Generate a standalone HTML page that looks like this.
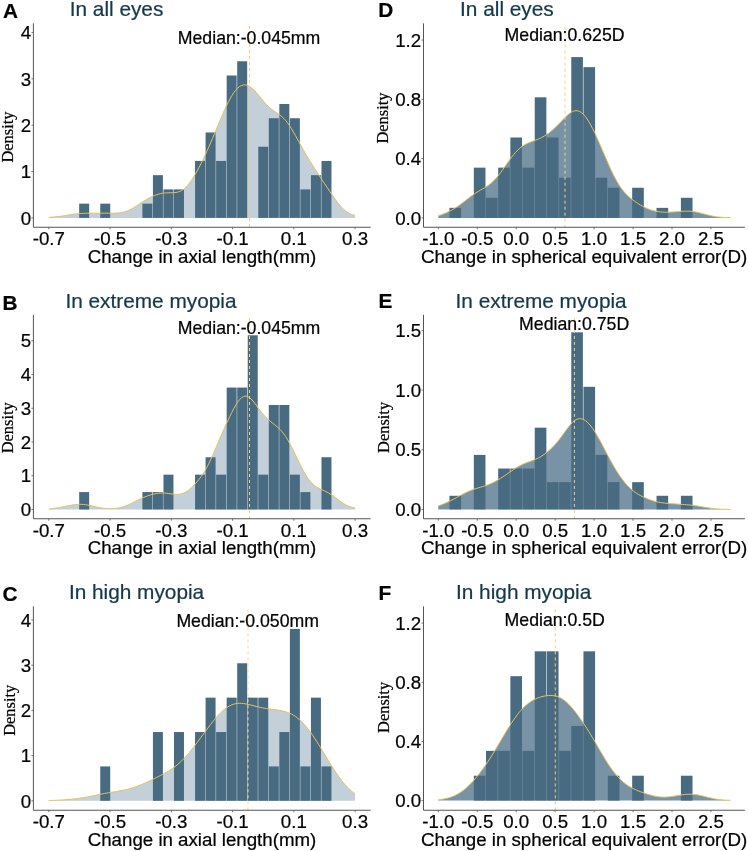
<!DOCTYPE html>
<html><head><meta charset="utf-8"><style>
html,body{margin:0;padding:0;background:#fff}
svg{display:block;will-change:transform}
text{font-family:"Liberation Sans", sans-serif;stroke:currentColor;stroke-width:0.22px;paint-order:stroke}
text.serif{font-family:"Liberation Serif", serif}
</style></head><body>
<svg width="748" height="851" viewBox="0 0 748 851">
<rect width="748" height="851" fill="#fff"/>
<polygon points="48.8,217.9 48.8,217.31 50.73,217.22 52.65,217.09 54.58,216.94 56.51,216.75 58.43,216.53 60.36,216.28 62.28,216.01 64.21,215.71 66.14,215.41 68.06,215.09 69.99,214.79 71.92,214.49 73.84,214.21 75.77,213.97 77.7,213.75 79.62,213.58 81.55,213.44 83.48,213.34 85.4,213.28 87.33,213.24 89.25,213.22 91.18,213.22 93.11,213.21 95.03,213.21 96.96,213.21 98.89,213.2 100.81,213.19 102.74,213.18 104.67,213.17 106.59,213.17 108.52,213.18 110.45,213.19 112.37,213.19 114.3,213.17 116.22,213.11 118.15,212.99 120.08,212.78 122,212.46 123.93,212.01 125.86,211.42 127.78,210.69 129.71,209.82 131.64,208.81 133.56,207.7 135.49,206.51 137.42,205.26 139.34,203.99 141.27,202.72 143.19,201.48 145.12,200.28 147.05,199.15 148.97,198.1 150.9,197.12 152.83,196.23 154.75,195.43 156.68,194.73 158.61,194.14 160.53,193.65 162.46,193.28 164.38,193.02 166.31,192.87 168.24,192.79 170.16,192.77 172.09,192.74 174.02,192.66 175.94,192.45 177.87,192.06 179.8,191.41 181.72,190.46 183.65,189.17 185.58,187.52 187.5,185.51 189.43,183.15 191.35,180.48 193.28,177.53 195.21,174.33 197.13,170.93 199.06,167.35 200.99,163.61 202.91,159.73 204.84,155.71 206.77,151.56 208.69,147.28 210.62,142.89 212.55,138.39 214.47,133.81 216.4,129.19 218.32,124.55 220.25,119.93 222.18,115.4 224.1,110.99 226.03,106.77 227.96,102.78 229.88,99.08 231.81,95.72 233.74,92.75 235.66,90.22 237.59,88.15 239.52,86.57 241.44,85.5 243.37,84.94 245.29,84.88 247.22,85.3 249.15,86.17 251.07,87.44 253,89.06 254.93,90.97 256.85,93.11 258.78,95.4 260.71,97.76 262.63,100.1 264.56,102.37 266.48,104.49 268.41,106.43 270.34,108.17 272.26,109.72 274.19,111.11 276.12,112.42 278.04,113.73 279.97,115.13 281.9,116.69 283.82,118.51 285.75,120.63 287.68,123.06 289.6,125.8 291.53,128.82 293.45,132.06 295.38,135.46 297.31,138.94 299.23,142.45 301.16,145.94 303.09,149.38 305.01,152.75 306.94,156.05 308.87,159.27 310.79,162.42 312.72,165.51 314.65,168.55 316.57,171.54 318.5,174.49 320.42,177.41 322.35,180.31 324.28,183.19 326.2,186.06 328.13,188.92 330.06,191.77 331.98,194.6 333.91,197.36 335.84,200.05 337.76,202.61 339.69,205 341.62,207.2 343.54,209.16 345.47,210.86 347.39,212.29 349.32,213.45 351.25,214.34 353.17,214.98 355.1,215.39 355.1,217.9" fill="#c3d0d9"/>
<g fill="#486b81"><rect x="79.18" y="203.66" width="9.98" height="14.24"/><rect x="100.25" y="203.66" width="9.98" height="14.24"/><rect x="142.39" y="203.66" width="9.98" height="14.24"/><rect x="152.92" y="175.18" width="9.98" height="42.72"/><rect x="163.46" y="189.42" width="9.98" height="28.48"/><rect x="173.99" y="189.42" width="9.98" height="28.48"/><rect x="195.06" y="160.94" width="9.98" height="56.96"/><rect x="205.59" y="132.46" width="9.98" height="85.44"/><rect x="216.13" y="160.94" width="9.98" height="56.96"/><rect x="226.67" y="75.5" width="9.98" height="142.4"/><rect x="237.2" y="61.26" width="9.98" height="156.64"/><rect x="258.27" y="146.7" width="9.98" height="71.2"/><rect x="268.8" y="118.22" width="9.98" height="99.68"/><rect x="279.34" y="103.98" width="9.98" height="113.92"/><rect x="289.88" y="118.22" width="9.98" height="99.68"/><rect x="300.41" y="189.42" width="9.98" height="28.48"/><rect x="310.94" y="175.18" width="9.98" height="42.72"/><rect x="321.48" y="160.94" width="9.98" height="56.96"/></g>
<polyline points="48.8,217.31 50.73,217.22 52.65,217.09 54.58,216.94 56.51,216.75 58.43,216.53 60.36,216.28 62.28,216.01 64.21,215.71 66.14,215.41 68.06,215.09 69.99,214.79 71.92,214.49 73.84,214.21 75.77,213.97 77.7,213.75 79.62,213.58 81.55,213.44 83.48,213.34 85.4,213.28 87.33,213.24 89.25,213.22 91.18,213.22 93.11,213.21 95.03,213.21 96.96,213.21 98.89,213.2 100.81,213.19 102.74,213.18 104.67,213.17 106.59,213.17 108.52,213.18 110.45,213.19 112.37,213.19 114.3,213.17 116.22,213.11 118.15,212.99 120.08,212.78 122,212.46 123.93,212.01 125.86,211.42 127.78,210.69 129.71,209.82 131.64,208.81 133.56,207.7 135.49,206.51 137.42,205.26 139.34,203.99 141.27,202.72 143.19,201.48 145.12,200.28 147.05,199.15 148.97,198.1 150.9,197.12 152.83,196.23 154.75,195.43 156.68,194.73 158.61,194.14 160.53,193.65 162.46,193.28 164.38,193.02 166.31,192.87 168.24,192.79 170.16,192.77 172.09,192.74 174.02,192.66 175.94,192.45 177.87,192.06 179.8,191.41 181.72,190.46 183.65,189.17 185.58,187.52 187.5,185.51 189.43,183.15 191.35,180.48 193.28,177.53 195.21,174.33 197.13,170.93 199.06,167.35 200.99,163.61 202.91,159.73 204.84,155.71 206.77,151.56 208.69,147.28 210.62,142.89 212.55,138.39 214.47,133.81 216.4,129.19 218.32,124.55 220.25,119.93 222.18,115.4 224.1,110.99 226.03,106.77 227.96,102.78 229.88,99.08 231.81,95.72 233.74,92.75 235.66,90.22 237.59,88.15 239.52,86.57 241.44,85.5 243.37,84.94 245.29,84.88 247.22,85.3 249.15,86.17 251.07,87.44 253,89.06 254.93,90.97 256.85,93.11 258.78,95.4 260.71,97.76 262.63,100.1 264.56,102.37 266.48,104.49 268.41,106.43 270.34,108.17 272.26,109.72 274.19,111.11 276.12,112.42 278.04,113.73 279.97,115.13 281.9,116.69 283.82,118.51 285.75,120.63 287.68,123.06 289.6,125.8 291.53,128.82 293.45,132.06 295.38,135.46 297.31,138.94 299.23,142.45 301.16,145.94 303.09,149.38 305.01,152.75 306.94,156.05 308.87,159.27 310.79,162.42 312.72,165.51 314.65,168.55 316.57,171.54 318.5,174.49 320.42,177.41 322.35,180.31 324.28,183.19 326.2,186.06 328.13,188.92 330.06,191.77 331.98,194.6 333.91,197.36 335.84,200.05 337.76,202.61 339.69,205 341.62,207.2 343.54,209.16 345.47,210.86 347.39,212.29 349.32,213.45 351.25,214.34 353.17,214.98 355.1,215.39" fill="none" stroke="#e6c35c" stroke-width="1"/>
<line x1="249.5" y1="23.35" x2="249.5" y2="227.25" stroke="#f8c874" stroke-width="1" stroke-dasharray="3 3" stroke-dashoffset="3.35"/>
<path d="M33.4,23.35V227.25H370.6" fill="none" stroke="#555" stroke-width="1"/>
<path d="M31.4,217.9h2M31.4,171.55h2M31.4,125.2h2M31.4,78.85h2M31.4,32.5h2M48.8,227.25v2M110.06,227.25v2M171.32,227.25v2M232.58,227.25v2M293.84,227.25v2M355.1,227.25v2" stroke="#555" stroke-width="0.8"/>
<g font-size="18.7"><text x="31.1" y="224.6" text-anchor="end">0</text><text x="31.1" y="178.25" text-anchor="end">1</text><text x="31.1" y="131.9" text-anchor="end">2</text><text x="31.1" y="85.55" text-anchor="end">3</text><text x="31.1" y="39.2" text-anchor="end">4</text><text x="48.8" y="245.05" text-anchor="middle">-0.7</text><text x="110.06" y="245.05" text-anchor="middle">-0.5</text><text x="171.32" y="245.05" text-anchor="middle">-0.3</text><text x="232.58" y="245.05" text-anchor="middle">-0.1</text><text x="293.84" y="245.05" text-anchor="middle">0.1</text><text x="355.1" y="245.05" text-anchor="middle">0.3</text><text x="202" y="262.85" text-anchor="middle">Change in axial length(mm)</text></g>
<text x="177.8" y="44.05" font-size="17.7">Median:-0.045mm</text>
<text x="69.7" y="16" font-size="20.8" fill="#133847" style="color:#133847">In all eyes</text>
<text x="3.1" y="18" font-size="20.8" font-weight="bold">A</text>
<text transform="translate(13,137) rotate(-90)" text-anchor="middle" class="serif" font-size="16.4">Density</text>
<polygon points="48.8,509.5 48.8,508.94 50.73,508.75 52.65,508.54 54.58,508.28 56.51,507.99 58.43,507.67 60.36,507.32 62.28,506.95 64.21,506.56 66.14,506.17 68.06,505.78 69.99,505.41 71.92,505.06 73.84,504.77 75.77,504.53 77.7,504.37 79.62,504.3 81.55,504.33 83.48,504.46 85.4,504.69 87.33,505.01 89.25,505.39 91.18,505.82 93.11,506.27 95.03,506.71 96.96,507.14 98.89,507.52 100.81,507.85 102.74,508.13 104.67,508.34 106.59,508.5 108.52,508.59 110.45,508.63 112.37,508.6 114.3,508.49 116.22,508.31 118.15,508.03 120.08,507.65 122,507.17 123.93,506.57 125.86,505.86 127.78,505.05 129.71,504.17 131.64,503.22 133.56,502.24 135.49,501.25 137.42,500.27 139.34,499.33 141.27,498.43 143.19,497.59 145.12,496.8 147.05,496.07 148.97,495.41 150.9,494.81 152.83,494.28 154.75,493.83 156.68,493.47 158.61,493.22 160.53,493.06 162.46,493.02 164.38,493.08 166.31,493.23 168.24,493.46 170.16,493.73 172.09,494 174.02,494.23 175.94,494.36 177.87,494.35 179.8,494.16 181.72,493.73 183.65,493.04 185.58,492.09 187.5,490.88 189.43,489.42 191.35,487.76 193.28,485.9 195.21,483.87 197.13,481.68 199.06,479.31 200.99,476.74 202.91,473.93 204.84,470.84 206.77,467.46 208.69,463.77 210.62,459.79 212.55,455.56 214.47,451.16 216.4,446.64 218.32,442.1 220.25,437.58 222.18,433.13 224.1,428.77 226.03,424.51 227.96,420.36 229.88,416.31 231.81,412.42 233.74,408.72 235.66,405.3 237.59,402.27 239.52,399.74 241.44,397.82 243.37,396.59 245.29,396.11 247.22,396.38 249.15,397.35 251.07,398.93 253,401 254.93,403.4 256.85,406 258.78,408.66 260.71,411.25 262.63,413.69 264.56,415.92 266.48,417.94 268.41,419.74 270.34,421.37 272.26,422.89 274.19,424.37 276.12,425.9 278.04,427.56 279.97,429.42 281.9,431.54 283.82,433.96 285.75,436.71 287.68,439.78 289.6,443.15 291.53,446.79 293.45,450.63 295.38,454.6 297.31,458.62 299.23,462.62 301.16,466.5 303.09,470.2 305.01,473.64 306.94,476.77 308.87,479.53 310.79,481.93 312.72,483.94 314.65,485.62 316.57,486.99 318.5,488.12 320.42,489.09 322.35,489.97 324.28,490.83 326.2,491.75 328.13,492.75 330.06,493.88 331.98,495.12 333.91,496.48 335.84,497.91 337.76,499.37 339.69,500.81 341.62,502.2 343.54,503.48 345.47,504.63 347.39,505.62 349.32,506.45 351.25,507.12 353.17,507.63 355.1,508.01 355.1,509.5" fill="#c3d0d9"/>
<g fill="#486b81"><rect x="79.18" y="492.08" width="9.98" height="17.42"/><rect x="142.39" y="492.08" width="9.98" height="17.42"/><rect x="152.92" y="492.08" width="9.98" height="17.42"/><rect x="163.46" y="474.66" width="9.98" height="34.84"/><rect x="195.06" y="474.66" width="9.98" height="34.84"/><rect x="205.59" y="457.24" width="9.98" height="52.26"/><rect x="216.13" y="474.66" width="9.98" height="34.84"/><rect x="226.67" y="387.56" width="9.98" height="121.94"/><rect x="237.2" y="387.56" width="9.98" height="121.94"/><rect x="247.74" y="335.3" width="9.98" height="174.2"/><rect x="258.27" y="474.66" width="9.98" height="34.84"/><rect x="268.8" y="404.98" width="9.98" height="104.52"/><rect x="279.34" y="404.98" width="9.98" height="104.52"/><rect x="289.88" y="474.66" width="9.98" height="34.84"/><rect x="300.41" y="492.08" width="9.98" height="17.42"/><rect x="321.48" y="457.24" width="9.98" height="52.26"/></g>
<polyline points="48.8,508.94 50.73,508.75 52.65,508.54 54.58,508.28 56.51,507.99 58.43,507.67 60.36,507.32 62.28,506.95 64.21,506.56 66.14,506.17 68.06,505.78 69.99,505.41 71.92,505.06 73.84,504.77 75.77,504.53 77.7,504.37 79.62,504.3 81.55,504.33 83.48,504.46 85.4,504.69 87.33,505.01 89.25,505.39 91.18,505.82 93.11,506.27 95.03,506.71 96.96,507.14 98.89,507.52 100.81,507.85 102.74,508.13 104.67,508.34 106.59,508.5 108.52,508.59 110.45,508.63 112.37,508.6 114.3,508.49 116.22,508.31 118.15,508.03 120.08,507.65 122,507.17 123.93,506.57 125.86,505.86 127.78,505.05 129.71,504.17 131.64,503.22 133.56,502.24 135.49,501.25 137.42,500.27 139.34,499.33 141.27,498.43 143.19,497.59 145.12,496.8 147.05,496.07 148.97,495.41 150.9,494.81 152.83,494.28 154.75,493.83 156.68,493.47 158.61,493.22 160.53,493.06 162.46,493.02 164.38,493.08 166.31,493.23 168.24,493.46 170.16,493.73 172.09,494 174.02,494.23 175.94,494.36 177.87,494.35 179.8,494.16 181.72,493.73 183.65,493.04 185.58,492.09 187.5,490.88 189.43,489.42 191.35,487.76 193.28,485.9 195.21,483.87 197.13,481.68 199.06,479.31 200.99,476.74 202.91,473.93 204.84,470.84 206.77,467.46 208.69,463.77 210.62,459.79 212.55,455.56 214.47,451.16 216.4,446.64 218.32,442.1 220.25,437.58 222.18,433.13 224.1,428.77 226.03,424.51 227.96,420.36 229.88,416.31 231.81,412.42 233.74,408.72 235.66,405.3 237.59,402.27 239.52,399.74 241.44,397.82 243.37,396.59 245.29,396.11 247.22,396.38 249.15,397.35 251.07,398.93 253,401 254.93,403.4 256.85,406 258.78,408.66 260.71,411.25 262.63,413.69 264.56,415.92 266.48,417.94 268.41,419.74 270.34,421.37 272.26,422.89 274.19,424.37 276.12,425.9 278.04,427.56 279.97,429.42 281.9,431.54 283.82,433.96 285.75,436.71 287.68,439.78 289.6,443.15 291.53,446.79 293.45,450.63 295.38,454.6 297.31,458.62 299.23,462.62 301.16,466.5 303.09,470.2 305.01,473.64 306.94,476.77 308.87,479.53 310.79,481.93 312.72,483.94 314.65,485.62 316.57,486.99 318.5,488.12 320.42,489.09 322.35,489.97 324.28,490.83 326.2,491.75 328.13,492.75 330.06,493.88 331.98,495.12 333.91,496.48 335.84,497.91 337.76,499.37 339.69,500.81 341.62,502.2 343.54,503.48 345.47,504.63 347.39,505.62 349.32,506.45 351.25,507.12 353.17,507.63 355.1,508.01" fill="none" stroke="#e6c35c" stroke-width="1"/>
<line x1="249.5" y1="314.85" x2="249.5" y2="518.75" stroke="#f6cf78" stroke-width="1" stroke-dasharray="3 3" stroke-dashoffset="2.85"/>
<path d="M33.4,314.85V518.75H370.6" fill="none" stroke="#555" stroke-width="1"/>
<path d="M31.4,509.5h2M31.4,475.75h2M31.4,442h2M31.4,408.25h2M31.4,374.5h2M31.4,340.75h2M48.8,518.75v2M110.06,518.75v2M171.32,518.75v2M232.58,518.75v2M293.84,518.75v2M355.1,518.75v2" stroke="#555" stroke-width="0.8"/>
<g font-size="18.7"><text x="31.1" y="516.2" text-anchor="end">0</text><text x="31.1" y="482.45" text-anchor="end">1</text><text x="31.1" y="448.7" text-anchor="end">2</text><text x="31.1" y="414.95" text-anchor="end">3</text><text x="31.1" y="381.2" text-anchor="end">4</text><text x="31.1" y="347.45" text-anchor="end">5</text><text x="48.8" y="536.55" text-anchor="middle">-0.7</text><text x="110.06" y="536.55" text-anchor="middle">-0.5</text><text x="171.32" y="536.55" text-anchor="middle">-0.3</text><text x="232.58" y="536.55" text-anchor="middle">-0.1</text><text x="293.84" y="536.55" text-anchor="middle">0.1</text><text x="355.1" y="536.55" text-anchor="middle">0.3</text><text x="202" y="554.35" text-anchor="middle">Change in axial length(mm)</text></g>
<text x="177.8" y="334" font-size="17.7">Median:-0.045mm</text>
<text x="65.4" y="308" font-size="20.8" fill="#133847" style="color:#133847">In extreme myopia</text>
<text x="2.5" y="309.5" font-size="20.8" font-weight="bold">B</text>
<text transform="translate(13,427.8) rotate(-90)" text-anchor="middle" class="serif" font-size="16.4">Density</text>
<polygon points="48.8,800.8 48.8,800.51 50.73,800.47 52.65,800.41 54.58,800.34 56.51,800.26 58.43,800.16 60.36,800.06 62.28,799.94 64.21,799.81 66.14,799.67 68.06,799.51 69.99,799.34 71.92,799.15 73.84,798.94 75.77,798.71 77.7,798.47 79.62,798.2 81.55,797.91 83.48,797.6 85.4,797.26 87.33,796.91 89.25,796.54 91.18,796.15 93.11,795.76 95.03,795.36 96.96,794.96 98.89,794.56 100.81,794.17 102.74,793.8 104.67,793.43 106.59,793.09 108.52,792.75 110.45,792.43 112.37,792.12 114.3,791.81 116.22,791.5 118.15,791.17 120.08,790.83 122,790.46 123.93,790.07 125.86,789.63 127.78,789.16 129.71,788.64 131.64,788.08 133.56,787.47 135.49,786.82 137.42,786.12 139.34,785.38 141.27,784.6 143.19,783.78 145.12,782.93 147.05,782.06 148.97,781.16 150.9,780.25 152.83,779.32 154.75,778.37 156.68,777.42 158.61,776.45 160.53,775.46 162.46,774.45 164.38,773.41 166.31,772.33 168.24,771.2 170.16,770 172.09,768.73 174.02,767.36 175.94,765.89 177.87,764.31 179.8,762.61 181.72,760.79 183.65,758.85 185.58,756.79 187.5,754.61 189.43,752.34 191.35,749.98 193.28,747.54 195.21,745.05 197.13,742.5 199.06,739.92 200.99,737.32 202.91,734.72 204.84,732.11 206.77,729.53 208.69,726.97 210.62,724.46 212.55,722.01 214.47,719.64 216.4,717.36 218.32,715.2 220.25,713.18 222.18,711.31 224.1,709.61 226.03,708.11 227.96,706.81 229.88,705.71 231.81,704.83 233.74,704.16 235.66,703.69 237.59,703.41 239.52,703.31 241.44,703.36 243.37,703.54 245.29,703.83 247.22,704.2 249.15,704.64 251.07,705.11 253,705.61 254.93,706.1 256.85,706.59 258.78,707.05 260.71,707.48 262.63,707.87 264.56,708.23 266.48,708.55 268.41,708.83 270.34,709.1 272.26,709.34 274.19,709.59 276.12,709.84 278.04,710.11 279.97,710.43 281.9,710.81 283.82,711.25 285.75,711.79 287.68,712.44 289.6,713.22 291.53,714.13 293.45,715.19 295.38,716.42 297.31,717.82 299.23,719.41 301.16,721.17 303.09,723.12 305.01,725.24 306.94,727.54 308.87,730.01 310.79,732.62 312.72,735.38 314.65,738.26 316.57,741.23 318.5,744.3 320.42,747.42 322.35,750.59 324.28,753.78 326.2,756.98 328.13,760.16 330.06,763.3 331.98,766.39 333.91,769.41 335.84,772.34 337.76,775.16 339.69,777.86 341.62,780.42 343.54,782.84 345.47,785.09 347.39,787.18 349.32,789.1 351.25,790.83 353.17,792.39 355.1,793.78 355.1,800.8" fill="#c3d0d9"/>
<g fill="#486b81"><rect x="100.25" y="766.42" width="9.98" height="34.38"/><rect x="152.92" y="732.04" width="9.98" height="68.76"/><rect x="173.99" y="732.04" width="9.98" height="68.76"/><rect x="195.06" y="732.04" width="9.98" height="68.76"/><rect x="205.59" y="697.66" width="9.98" height="103.14"/><rect x="216.13" y="732.04" width="9.98" height="68.76"/><rect x="226.67" y="697.66" width="9.98" height="103.14"/><rect x="237.2" y="663.28" width="9.98" height="137.52"/><rect x="247.74" y="697.66" width="9.98" height="103.14"/><rect x="258.27" y="697.66" width="9.98" height="103.14"/><rect x="268.8" y="766.42" width="9.98" height="34.38"/><rect x="279.34" y="732.04" width="9.98" height="68.76"/><rect x="289.88" y="628.9" width="9.98" height="171.9"/><rect x="300.41" y="766.42" width="9.98" height="34.38"/><rect x="310.94" y="697.66" width="9.98" height="103.14"/><rect x="321.48" y="766.42" width="9.98" height="34.38"/></g>
<polyline points="48.8,800.51 50.73,800.47 52.65,800.41 54.58,800.34 56.51,800.26 58.43,800.16 60.36,800.06 62.28,799.94 64.21,799.81 66.14,799.67 68.06,799.51 69.99,799.34 71.92,799.15 73.84,798.94 75.77,798.71 77.7,798.47 79.62,798.2 81.55,797.91 83.48,797.6 85.4,797.26 87.33,796.91 89.25,796.54 91.18,796.15 93.11,795.76 95.03,795.36 96.96,794.96 98.89,794.56 100.81,794.17 102.74,793.8 104.67,793.43 106.59,793.09 108.52,792.75 110.45,792.43 112.37,792.12 114.3,791.81 116.22,791.5 118.15,791.17 120.08,790.83 122,790.46 123.93,790.07 125.86,789.63 127.78,789.16 129.71,788.64 131.64,788.08 133.56,787.47 135.49,786.82 137.42,786.12 139.34,785.38 141.27,784.6 143.19,783.78 145.12,782.93 147.05,782.06 148.97,781.16 150.9,780.25 152.83,779.32 154.75,778.37 156.68,777.42 158.61,776.45 160.53,775.46 162.46,774.45 164.38,773.41 166.31,772.33 168.24,771.2 170.16,770 172.09,768.73 174.02,767.36 175.94,765.89 177.87,764.31 179.8,762.61 181.72,760.79 183.65,758.85 185.58,756.79 187.5,754.61 189.43,752.34 191.35,749.98 193.28,747.54 195.21,745.05 197.13,742.5 199.06,739.92 200.99,737.32 202.91,734.72 204.84,732.11 206.77,729.53 208.69,726.97 210.62,724.46 212.55,722.01 214.47,719.64 216.4,717.36 218.32,715.2 220.25,713.18 222.18,711.31 224.1,709.61 226.03,708.11 227.96,706.81 229.88,705.71 231.81,704.83 233.74,704.16 235.66,703.69 237.59,703.41 239.52,703.31 241.44,703.36 243.37,703.54 245.29,703.83 247.22,704.2 249.15,704.64 251.07,705.11 253,705.61 254.93,706.1 256.85,706.59 258.78,707.05 260.71,707.48 262.63,707.87 264.56,708.23 266.48,708.55 268.41,708.83 270.34,709.1 272.26,709.34 274.19,709.59 276.12,709.84 278.04,710.11 279.97,710.43 281.9,710.81 283.82,711.25 285.75,711.79 287.68,712.44 289.6,713.22 291.53,714.13 293.45,715.19 295.38,716.42 297.31,717.82 299.23,719.41 301.16,721.17 303.09,723.12 305.01,725.24 306.94,727.54 308.87,730.01 310.79,732.62 312.72,735.38 314.65,738.26 316.57,741.23 318.5,744.3 320.42,747.42 322.35,750.59 324.28,753.78 326.2,756.98 328.13,760.16 330.06,763.3 331.98,766.39 333.91,769.41 335.84,772.34 337.76,775.16 339.69,777.86 341.62,780.42 343.54,782.84 345.47,785.09 347.39,787.18 349.32,789.1 351.25,790.83 353.17,792.39 355.1,793.78" fill="none" stroke="#e6c35c" stroke-width="1"/>
<line x1="248" y1="606.35" x2="248" y2="810.25" stroke="#f9d6a0" stroke-width="1" stroke-dasharray="3 3" stroke-dashoffset="3.05"/>
<path d="M33.4,606.35V810.25H370.6" fill="none" stroke="#555" stroke-width="1"/>
<path d="M31.4,800.8h2M31.4,755.6h2M31.4,710.4h2M31.4,665.2h2M31.4,620h2M48.8,810.25v2M110.06,810.25v2M171.32,810.25v2M232.58,810.25v2M293.84,810.25v2M355.1,810.25v2" stroke="#555" stroke-width="0.8"/>
<g font-size="18.7"><text x="31.1" y="807.5" text-anchor="end">0</text><text x="31.1" y="762.3" text-anchor="end">1</text><text x="31.1" y="717.1" text-anchor="end">2</text><text x="31.1" y="671.9" text-anchor="end">3</text><text x="31.1" y="626.7" text-anchor="end">4</text><text x="48.8" y="828.05" text-anchor="middle">-0.7</text><text x="110.06" y="828.05" text-anchor="middle">-0.5</text><text x="171.32" y="828.05" text-anchor="middle">-0.3</text><text x="232.58" y="828.05" text-anchor="middle">-0.1</text><text x="293.84" y="828.05" text-anchor="middle">0.1</text><text x="355.1" y="828.05" text-anchor="middle">0.3</text><text x="202" y="845.85" text-anchor="middle">Change in axial length(mm)</text></g>
<text x="176.4" y="626.8" font-size="17.7">Median:-0.050mm</text>
<text x="68.9" y="598.7" font-size="20.8" fill="#133847" style="color:#133847">In high myopia</text>
<text x="2.5" y="601.2" font-size="20.8" font-weight="bold">C</text>
<text transform="translate(14.5,710.3) rotate(-90)" text-anchor="middle" class="serif" font-size="16.4">Density</text>
<polygon points="438.3,217.9 438.3,215.67 440.14,215.14 441.97,214.52 443.81,213.84 445.65,213.08 447.49,212.24 449.32,211.34 451.16,210.37 453,209.33 454.84,208.22 456.67,207.04 458.51,205.79 460.35,204.48 462.18,203.12 464.02,201.71 465.86,200.28 467.7,198.85 469.53,197.44 471.37,196.06 473.21,194.74 475.05,193.49 476.88,192.31 478.72,191.2 480.56,190.13 482.39,189.07 484.23,188 486.07,186.87 487.91,185.64 489.74,184.27 491.58,182.74 493.42,181.03 495.26,179.12 497.09,177.02 498.93,174.75 500.77,172.33 502.6,169.79 504.44,167.19 506.28,164.56 508.12,161.94 509.95,159.38 511.79,156.93 513.63,154.62 515.47,152.47 517.3,150.52 519.14,148.77 520.98,147.23 522.81,145.89 524.65,144.75 526.49,143.77 528.33,142.92 530.16,142.17 532,141.49 533.84,140.83 535.67,140.15 537.51,139.43 539.35,138.65 541.19,137.77 543.02,136.79 544.86,135.7 546.7,134.5 548.54,133.19 550.37,131.77 552.21,130.23 554.05,128.6 555.88,126.86 557.72,125.04 559.56,123.16 561.4,121.23 563.23,119.3 565.07,117.42 566.91,115.64 568.75,114.04 570.58,112.67 572.42,111.61 574.26,110.92 576.09,110.66 577.93,110.86 579.77,111.54 581.61,112.72 583.44,114.37 585.28,116.47 587.12,118.99 588.96,121.88 590.79,125.1 592.63,128.59 594.47,132.32 596.3,136.23 598.14,140.3 599.98,144.47 601.82,148.73 603.65,153.02 605.49,157.3 607.33,161.55 609.17,165.71 611,169.73 612.84,173.58 614.68,177.22 616.51,180.61 618.35,183.74 620.19,186.6 622.03,189.19 623.86,191.51 625.7,193.6 627.54,195.47 629.38,197.17 631.21,198.71 633.05,200.13 634.89,201.46 636.72,202.7 638.56,203.88 640.4,204.98 642.24,206.02 644.07,206.99 645.91,207.89 647.75,208.7 649.59,209.42 651.42,210.06 653.26,210.61 655.1,211.07 656.93,211.44 658.77,211.74 660.61,211.96 662.45,212.1 664.28,212.19 666.12,212.22 667.96,212.2 669.8,212.14 671.63,212.04 673.47,211.93 675.31,211.79 677.14,211.65 678.98,211.51 680.82,211.38 682.66,211.28 684.49,211.2 686.33,211.17 688.17,211.19 690.01,211.28 691.84,211.42 693.68,211.64 695.52,211.93 697.35,212.28 699.19,212.69 701.03,213.14 702.87,213.63 704.7,214.13 706.54,214.63 708.38,215.11 710.22,215.56 712.05,215.97 713.89,216.33 715.73,216.64 717.56,216.89 719.4,217.1 721.24,217.26 723.08,217.38 724.91,217.46 726.75,217.52 728.59,217.57 730.42,217.59 730.42,217.9" fill="#7893a6"/>
<g fill="#486b81"><rect x="449.47" y="207.85" width="11.63" height="10.05"/><rect x="473.83" y="167.65" width="11.63" height="50.25"/><rect x="486.01" y="197.8" width="11.63" height="20.1"/><rect x="498.19" y="167.65" width="11.63" height="50.25"/><rect x="510.37" y="137.5" width="11.63" height="80.4"/><rect x="522.55" y="167.65" width="11.63" height="50.25"/><rect x="534.74" y="97.3" width="11.63" height="120.6"/><rect x="546.91" y="137.5" width="11.63" height="80.4"/><rect x="559.09" y="177.7" width="11.63" height="40.2"/><rect x="571.27" y="57.1" width="11.63" height="160.8"/><rect x="583.45" y="67.15" width="11.63" height="150.75"/><rect x="595.63" y="177.7" width="11.63" height="40.2"/><rect x="607.81" y="187.75" width="11.63" height="30.15"/><rect x="632.17" y="187.75" width="11.63" height="30.15"/><rect x="656.53" y="207.85" width="11.63" height="10.05"/><rect x="680.89" y="197.8" width="11.63" height="20.1"/></g>
<polyline points="438.3,215.67 440.14,215.14 441.97,214.52 443.81,213.84 445.65,213.08 447.49,212.24 449.32,211.34 451.16,210.37 453,209.33 454.84,208.22 456.67,207.04 458.51,205.79 460.35,204.48 462.18,203.12 464.02,201.71 465.86,200.28 467.7,198.85 469.53,197.44 471.37,196.06 473.21,194.74 475.05,193.49 476.88,192.31 478.72,191.2 480.56,190.13 482.39,189.07 484.23,188 486.07,186.87 487.91,185.64 489.74,184.27 491.58,182.74 493.42,181.03 495.26,179.12 497.09,177.02 498.93,174.75 500.77,172.33 502.6,169.79 504.44,167.19 506.28,164.56 508.12,161.94 509.95,159.38 511.79,156.93 513.63,154.62 515.47,152.47 517.3,150.52 519.14,148.77 520.98,147.23 522.81,145.89 524.65,144.75 526.49,143.77 528.33,142.92 530.16,142.17 532,141.49 533.84,140.83 535.67,140.15 537.51,139.43 539.35,138.65 541.19,137.77 543.02,136.79 544.86,135.7 546.7,134.5 548.54,133.19 550.37,131.77 552.21,130.23 554.05,128.6 555.88,126.86 557.72,125.04 559.56,123.16 561.4,121.23 563.23,119.3 565.07,117.42 566.91,115.64 568.75,114.04 570.58,112.67 572.42,111.61 574.26,110.92 576.09,110.66 577.93,110.86 579.77,111.54 581.61,112.72 583.44,114.37 585.28,116.47 587.12,118.99 588.96,121.88 590.79,125.1 592.63,128.59 594.47,132.32 596.3,136.23 598.14,140.3 599.98,144.47 601.82,148.73 603.65,153.02 605.49,157.3 607.33,161.55 609.17,165.71 611,169.73 612.84,173.58 614.68,177.22 616.51,180.61 618.35,183.74 620.19,186.6 622.03,189.19 623.86,191.51 625.7,193.6 627.54,195.47 629.38,197.17 631.21,198.71 633.05,200.13 634.89,201.46 636.72,202.7 638.56,203.88 640.4,204.98 642.24,206.02 644.07,206.99 645.91,207.89 647.75,208.7 649.59,209.42 651.42,210.06 653.26,210.61 655.1,211.07 656.93,211.44 658.77,211.74 660.61,211.96 662.45,212.1 664.28,212.19 666.12,212.22 667.96,212.2 669.8,212.14 671.63,212.04 673.47,211.93 675.31,211.79 677.14,211.65 678.98,211.51 680.82,211.38 682.66,211.28 684.49,211.2 686.33,211.17 688.17,211.19 690.01,211.28 691.84,211.42 693.68,211.64 695.52,211.93 697.35,212.28 699.19,212.69 701.03,213.14 702.87,213.63 704.7,214.13 706.54,214.63 708.38,215.11 710.22,215.56 712.05,215.97 713.89,216.33 715.73,216.64 717.56,216.89 719.4,217.1 721.24,217.26 723.08,217.38 724.91,217.46 726.75,217.52 728.59,217.57 730.42,217.59" fill="none" stroke="#e6c35c" stroke-width="1"/>
<line x1="565" y1="23.35" x2="565" y2="227.25" stroke="#f8d082" stroke-width="1" stroke-dasharray="3 3" stroke-dashoffset="2.65"/>
<path d="M423.5,23.35V227.25H744.9" fill="none" stroke="#555" stroke-width="1"/>
<path d="M421.5,217.9h2M421.5,158.62h2M421.5,99.34h2M421.5,40.06h2M438.3,227.25v2M477.25,227.25v2M516.2,227.25v2M555.15,227.25v2M594.1,227.25v2M633.05,227.25v2M672,227.25v2M710.95,227.25v2" stroke="#555" stroke-width="0.8"/>
<g font-size="18.7"><text x="421.2" y="224.6" text-anchor="end">0.0</text><text x="421.2" y="165.32" text-anchor="end">0.4</text><text x="421.2" y="106.04" text-anchor="end">0.8</text><text x="421.2" y="46.76" text-anchor="end">1.2</text><text x="438.3" y="245.05" text-anchor="middle">-1.0</text><text x="477.25" y="245.05" text-anchor="middle">-0.5</text><text x="516.2" y="245.05" text-anchor="middle">0.0</text><text x="555.15" y="245.05" text-anchor="middle">0.5</text><text x="594.1" y="245.05" text-anchor="middle">1.0</text><text x="633.05" y="245.05" text-anchor="middle">1.5</text><text x="672" y="245.05" text-anchor="middle">2.0</text><text x="710.95" y="245.05" text-anchor="middle">2.5</text><text x="584.2" y="262.85" text-anchor="middle">Change in spherical equivalent error(D)</text></g>
<text x="504.6" y="40.9" font-size="17.7">Median:0.625D</text>
<text x="460.1" y="15.9" font-size="20.8" fill="#133847" style="color:#133847">In all eyes</text>
<text x="378.3" y="17" font-size="20.8" font-weight="bold">D</text>
<text transform="translate(388,118) rotate(-90)" text-anchor="middle" class="serif" font-size="16.4">Density</text>
<polygon points="438.3,509.4 438.3,505.93 440.14,505.28 441.97,504.58 443.81,503.82 445.65,503.03 447.49,502.19 449.32,501.32 451.16,500.41 453,499.47 454.84,498.51 456.67,497.52 458.51,496.52 460.35,495.51 462.18,494.52 464.02,493.54 465.86,492.61 467.7,491.72 469.53,490.9 471.37,490.15 473.21,489.47 475.05,488.84 476.88,488.27 478.72,487.73 480.56,487.21 482.39,486.67 484.23,486.11 486.07,485.5 487.91,484.82 489.74,484.08 491.58,483.26 493.42,482.38 495.26,481.42 497.09,480.4 498.93,479.33 500.77,478.2 502.6,477.03 504.44,475.82 506.28,474.58 508.12,473.31 509.95,472.04 511.79,470.76 513.63,469.51 515.47,468.31 517.3,467.16 519.14,466.09 520.98,465.11 522.81,464.22 524.65,463.43 526.49,462.71 528.33,462.05 530.16,461.41 532,460.76 533.84,460.07 535.67,459.31 537.51,458.45 539.35,457.48 541.19,456.39 543.02,455.18 544.86,453.86 546.7,452.44 548.54,450.9 550.37,449.25 552.21,447.49 554.05,445.6 555.88,443.57 557.72,441.4 559.56,439.09 561.4,436.65 563.23,434.12 565.07,431.55 566.91,429.02 568.75,426.6 570.58,424.37 572.42,422.43 574.26,420.83 576.09,419.65 577.93,418.91 579.77,418.64 581.61,418.83 583.44,419.47 585.28,420.54 587.12,422 588.96,423.83 590.79,425.98 592.63,428.42 594.47,431.13 596.3,434.08 598.14,437.22 599.98,440.52 601.82,443.94 603.65,447.44 605.49,450.98 607.33,454.5 609.17,457.97 611,461.36 612.84,464.64 614.68,467.79 616.51,470.81 618.35,473.67 620.19,476.39 622.03,478.94 623.86,481.34 625.7,483.57 627.54,485.63 629.38,487.51 631.21,489.22 633.05,490.77 634.89,492.15 636.72,493.39 638.56,494.5 640.4,495.51 642.24,496.44 644.07,497.3 645.91,498.11 647.75,498.87 649.59,499.58 651.42,500.24 653.26,500.85 655.1,501.39 656.93,501.85 658.77,502.25 660.61,502.58 662.45,502.85 664.28,503.07 666.12,503.25 667.96,503.4 669.8,503.54 671.63,503.67 673.47,503.8 675.31,503.93 677.14,504.06 678.98,504.19 680.82,504.32 682.66,504.45 684.49,504.58 686.33,504.71 688.17,504.86 690.01,505.03 691.84,505.21 693.68,505.43 695.52,505.68 697.35,505.96 699.19,506.26 701.03,506.58 702.87,506.91 704.7,507.24 706.54,507.56 708.38,507.87 710.22,508.15 712.05,508.39 713.89,508.61 715.73,508.79 717.56,508.94 719.4,509.06 721.24,509.16 723.08,509.23 724.91,509.28 726.75,509.32 728.59,509.35 730.42,509.37 730.42,509.4" fill="#7893a6"/>
<g fill="#486b81"><rect x="449.47" y="495.78" width="11.63" height="13.62"/><rect x="473.83" y="454.92" width="11.63" height="54.48"/><rect x="498.19" y="468.54" width="11.63" height="40.86"/><rect x="510.37" y="468.54" width="11.63" height="40.86"/><rect x="522.55" y="468.54" width="11.63" height="40.86"/><rect x="534.74" y="427.68" width="11.63" height="81.72"/><rect x="546.91" y="482.16" width="11.63" height="27.24"/><rect x="559.09" y="482.16" width="11.63" height="27.24"/><rect x="571.27" y="332.34" width="11.63" height="177.06"/><rect x="583.45" y="386.82" width="11.63" height="122.58"/><rect x="595.63" y="454.92" width="11.63" height="54.48"/><rect x="607.81" y="482.16" width="11.63" height="27.24"/><rect x="632.17" y="482.16" width="11.63" height="27.24"/><rect x="656.53" y="495.78" width="11.63" height="13.62"/><rect x="680.89" y="495.78" width="11.63" height="13.62"/></g>
<polyline points="438.3,505.93 440.14,505.28 441.97,504.58 443.81,503.82 445.65,503.03 447.49,502.19 449.32,501.32 451.16,500.41 453,499.47 454.84,498.51 456.67,497.52 458.51,496.52 460.35,495.51 462.18,494.52 464.02,493.54 465.86,492.61 467.7,491.72 469.53,490.9 471.37,490.15 473.21,489.47 475.05,488.84 476.88,488.27 478.72,487.73 480.56,487.21 482.39,486.67 484.23,486.11 486.07,485.5 487.91,484.82 489.74,484.08 491.58,483.26 493.42,482.38 495.26,481.42 497.09,480.4 498.93,479.33 500.77,478.2 502.6,477.03 504.44,475.82 506.28,474.58 508.12,473.31 509.95,472.04 511.79,470.76 513.63,469.51 515.47,468.31 517.3,467.16 519.14,466.09 520.98,465.11 522.81,464.22 524.65,463.43 526.49,462.71 528.33,462.05 530.16,461.41 532,460.76 533.84,460.07 535.67,459.31 537.51,458.45 539.35,457.48 541.19,456.39 543.02,455.18 544.86,453.86 546.7,452.44 548.54,450.9 550.37,449.25 552.21,447.49 554.05,445.6 555.88,443.57 557.72,441.4 559.56,439.09 561.4,436.65 563.23,434.12 565.07,431.55 566.91,429.02 568.75,426.6 570.58,424.37 572.42,422.43 574.26,420.83 576.09,419.65 577.93,418.91 579.77,418.64 581.61,418.83 583.44,419.47 585.28,420.54 587.12,422 588.96,423.83 590.79,425.98 592.63,428.42 594.47,431.13 596.3,434.08 598.14,437.22 599.98,440.52 601.82,443.94 603.65,447.44 605.49,450.98 607.33,454.5 609.17,457.97 611,461.36 612.84,464.64 614.68,467.79 616.51,470.81 618.35,473.67 620.19,476.39 622.03,478.94 623.86,481.34 625.7,483.57 627.54,485.63 629.38,487.51 631.21,489.22 633.05,490.77 634.89,492.15 636.72,493.39 638.56,494.5 640.4,495.51 642.24,496.44 644.07,497.3 645.91,498.11 647.75,498.87 649.59,499.58 651.42,500.24 653.26,500.85 655.1,501.39 656.93,501.85 658.77,502.25 660.61,502.58 662.45,502.85 664.28,503.07 666.12,503.25 667.96,503.4 669.8,503.54 671.63,503.67 673.47,503.8 675.31,503.93 677.14,504.06 678.98,504.19 680.82,504.32 682.66,504.45 684.49,504.58 686.33,504.71 688.17,504.86 690.01,505.03 691.84,505.21 693.68,505.43 695.52,505.68 697.35,505.96 699.19,506.26 701.03,506.58 702.87,506.91 704.7,507.24 706.54,507.56 708.38,507.87 710.22,508.15 712.05,508.39 713.89,508.61 715.73,508.79 717.56,508.94 719.4,509.06 721.24,509.16 723.08,509.23 724.91,509.28 726.75,509.32 728.59,509.35 730.42,509.37" fill="none" stroke="#e6c35c" stroke-width="1"/>
<line x1="574.4" y1="314.85" x2="574.4" y2="518.75" stroke="#f4d07a" stroke-width="1" stroke-dasharray="3 3" stroke-dashoffset="2.95"/>
<path d="M423.5,314.85V518.75H744.9" fill="none" stroke="#555" stroke-width="1"/>
<path d="M421.5,509.4h2M421.5,449.75h2M421.5,390.1h2M421.5,330.45h2M438.3,518.75v2M477.25,518.75v2M516.2,518.75v2M555.15,518.75v2M594.1,518.75v2M633.05,518.75v2M672,518.75v2M710.95,518.75v2" stroke="#555" stroke-width="0.8"/>
<g font-size="18.7"><text x="421.2" y="516.1" text-anchor="end">0.0</text><text x="421.2" y="456.45" text-anchor="end">0.5</text><text x="421.2" y="396.8" text-anchor="end">1.0</text><text x="421.2" y="337.15" text-anchor="end">1.5</text><text x="438.3" y="536.55" text-anchor="middle">-1.0</text><text x="477.25" y="536.55" text-anchor="middle">-0.5</text><text x="516.2" y="536.55" text-anchor="middle">0.0</text><text x="555.15" y="536.55" text-anchor="middle">0.5</text><text x="594.1" y="536.55" text-anchor="middle">1.0</text><text x="633.05" y="536.55" text-anchor="middle">1.5</text><text x="672" y="536.55" text-anchor="middle">2.0</text><text x="710.95" y="536.55" text-anchor="middle">2.5</text><text x="584.2" y="554.35" text-anchor="middle">Change in spherical equivalent error(D)</text></g>
<text x="519.1" y="329.7" font-size="17.7">Median:0.75D</text>
<text x="455.6" y="307.8" font-size="20.8" fill="#133847" style="color:#133847">In extreme myopia</text>
<text x="378.5" y="307.5" font-size="20.8" font-weight="bold">E</text>
<text transform="translate(389,427.4) rotate(-90)" text-anchor="middle" class="serif" font-size="16.4">Density</text>
<polygon points="438.3,800.6 438.3,799.81 440.14,799.59 441.97,799.32 443.81,799 445.65,798.62 447.49,798.16 449.32,797.64 451.16,797.03 453,796.32 454.84,795.52 456.67,794.61 458.51,793.59 460.35,792.45 462.18,791.18 464.02,789.78 465.86,788.26 467.7,786.61 469.53,784.85 471.37,782.96 473.21,780.97 475.05,778.87 476.88,776.67 478.72,774.38 480.56,772 482.39,769.54 484.23,766.98 486.07,764.34 487.91,761.61 489.74,758.8 491.58,755.91 493.42,752.95 495.26,749.92 497.09,746.84 498.93,743.73 500.77,740.6 502.6,737.47 504.44,734.37 506.28,731.31 508.12,728.31 509.95,725.39 511.79,722.57 513.63,719.85 515.47,717.26 517.3,714.81 519.14,712.5 520.98,710.35 522.81,708.35 524.65,706.52 526.49,704.85 528.33,703.35 530.16,702.01 532,700.82 533.84,699.78 535.67,698.88 537.51,698.09 539.35,697.42 541.19,696.85 543.02,696.38 544.86,696 546.7,695.72 548.54,695.54 550.37,695.47 552.21,695.53 554.05,695.74 555.88,696.12 557.72,696.67 559.56,697.42 561.4,698.38 563.23,699.54 565.07,700.91 566.91,702.49 568.75,704.25 570.58,706.19 572.42,708.29 574.26,710.52 576.09,712.87 577.93,715.33 579.77,717.88 581.61,720.51 583.44,723.22 585.28,726 587.12,728.86 588.96,731.79 590.79,734.78 592.63,737.84 594.47,740.95 596.3,744.1 598.14,747.27 599.98,750.44 601.82,753.59 603.65,756.69 605.49,759.72 607.33,762.65 609.17,765.46 611,768.14 612.84,770.68 614.68,773.06 616.51,775.28 618.35,777.34 620.19,779.24 622.03,780.98 623.86,782.57 625.7,784.01 627.54,785.32 629.38,786.5 631.21,787.57 633.05,788.54 634.89,789.42 636.72,790.23 638.56,790.99 640.4,791.69 642.24,792.37 644.07,793.01 645.91,793.63 647.75,794.22 649.59,794.78 651.42,795.3 653.26,795.77 655.1,796.19 656.93,796.53 658.77,796.81 660.61,797 662.45,797.1 664.28,797.13 666.12,797.07 667.96,796.94 669.8,796.75 671.63,796.51 673.47,796.23 675.31,795.92 677.14,795.61 678.98,795.3 680.82,795.01 682.66,794.75 684.49,794.53 686.33,794.36 688.17,794.26 690.01,794.23 691.84,794.27 693.68,794.4 695.52,794.59 697.35,794.86 699.19,795.2 701.03,795.59 702.87,796.02 704.7,796.48 706.54,796.95 708.38,797.42 710.22,797.87 712.05,798.3 713.89,798.69 715.73,799.04 717.56,799.34 719.4,799.59 721.24,799.8 723.08,799.97 724.91,800.1 726.75,800.19 728.59,800.25 730.42,800.29 730.42,800.6" fill="#7893a6"/>
<g fill="#486b81"><rect x="473.83" y="775.72" width="11.63" height="24.88"/><rect x="486.01" y="750.84" width="11.63" height="49.76"/><rect x="498.19" y="750.84" width="11.63" height="49.76"/><rect x="510.37" y="676.2" width="11.63" height="124.4"/><rect x="522.55" y="750.84" width="11.63" height="49.76"/><rect x="534.74" y="651.32" width="11.63" height="149.28"/><rect x="546.91" y="651.32" width="11.63" height="149.28"/><rect x="559.09" y="750.84" width="11.63" height="49.76"/><rect x="571.27" y="725.96" width="11.63" height="74.64"/><rect x="583.45" y="651.32" width="11.63" height="149.28"/><rect x="607.81" y="775.72" width="11.63" height="24.88"/><rect x="632.17" y="775.72" width="11.63" height="24.88"/><rect x="680.89" y="775.72" width="11.63" height="24.88"/></g>
<polyline points="438.3,799.81 440.14,799.59 441.97,799.32 443.81,799 445.65,798.62 447.49,798.16 449.32,797.64 451.16,797.03 453,796.32 454.84,795.52 456.67,794.61 458.51,793.59 460.35,792.45 462.18,791.18 464.02,789.78 465.86,788.26 467.7,786.61 469.53,784.85 471.37,782.96 473.21,780.97 475.05,778.87 476.88,776.67 478.72,774.38 480.56,772 482.39,769.54 484.23,766.98 486.07,764.34 487.91,761.61 489.74,758.8 491.58,755.91 493.42,752.95 495.26,749.92 497.09,746.84 498.93,743.73 500.77,740.6 502.6,737.47 504.44,734.37 506.28,731.31 508.12,728.31 509.95,725.39 511.79,722.57 513.63,719.85 515.47,717.26 517.3,714.81 519.14,712.5 520.98,710.35 522.81,708.35 524.65,706.52 526.49,704.85 528.33,703.35 530.16,702.01 532,700.82 533.84,699.78 535.67,698.88 537.51,698.09 539.35,697.42 541.19,696.85 543.02,696.38 544.86,696 546.7,695.72 548.54,695.54 550.37,695.47 552.21,695.53 554.05,695.74 555.88,696.12 557.72,696.67 559.56,697.42 561.4,698.38 563.23,699.54 565.07,700.91 566.91,702.49 568.75,704.25 570.58,706.19 572.42,708.29 574.26,710.52 576.09,712.87 577.93,715.33 579.77,717.88 581.61,720.51 583.44,723.22 585.28,726 587.12,728.86 588.96,731.79 590.79,734.78 592.63,737.84 594.47,740.95 596.3,744.1 598.14,747.27 599.98,750.44 601.82,753.59 603.65,756.69 605.49,759.72 607.33,762.65 609.17,765.46 611,768.14 612.84,770.68 614.68,773.06 616.51,775.28 618.35,777.34 620.19,779.24 622.03,780.98 623.86,782.57 625.7,784.01 627.54,785.32 629.38,786.5 631.21,787.57 633.05,788.54 634.89,789.42 636.72,790.23 638.56,790.99 640.4,791.69 642.24,792.37 644.07,793.01 645.91,793.63 647.75,794.22 649.59,794.78 651.42,795.3 653.26,795.77 655.1,796.19 656.93,796.53 658.77,796.81 660.61,797 662.45,797.1 664.28,797.13 666.12,797.07 667.96,796.94 669.8,796.75 671.63,796.51 673.47,796.23 675.31,795.92 677.14,795.61 678.98,795.3 680.82,795.01 682.66,794.75 684.49,794.53 686.33,794.36 688.17,794.26 690.01,794.23 691.84,794.27 693.68,794.4 695.52,794.59 697.35,794.86 699.19,795.2 701.03,795.59 702.87,796.02 704.7,796.48 706.54,796.95 708.38,797.42 710.22,797.87 712.05,798.3 713.89,798.69 715.73,799.04 717.56,799.34 719.4,799.59 721.24,799.8 723.08,799.97 724.91,800.1 726.75,800.19 728.59,800.25 730.42,800.29" fill="none" stroke="#e6c35c" stroke-width="1"/>
<line x1="555.3" y1="606.35" x2="555.3" y2="810.25" stroke="#f8cc78" stroke-width="1" stroke-dasharray="3 3" stroke-dashoffset="2.95"/>
<path d="M423.5,606.35V810.25H744.9" fill="none" stroke="#555" stroke-width="1"/>
<path d="M421.5,800.6h2M421.5,741.44h2M421.5,682.28h2M421.5,623.12h2M438.3,810.25v2M477.25,810.25v2M516.2,810.25v2M555.15,810.25v2M594.1,810.25v2M633.05,810.25v2M672,810.25v2M710.95,810.25v2" stroke="#555" stroke-width="0.8"/>
<g font-size="18.7"><text x="421.2" y="807.3" text-anchor="end">0.0</text><text x="421.2" y="748.14" text-anchor="end">0.4</text><text x="421.2" y="688.98" text-anchor="end">0.8</text><text x="421.2" y="629.82" text-anchor="end">1.2</text><text x="438.3" y="828.05" text-anchor="middle">-1.0</text><text x="477.25" y="828.05" text-anchor="middle">-0.5</text><text x="516.2" y="828.05" text-anchor="middle">0.0</text><text x="555.15" y="828.05" text-anchor="middle">0.5</text><text x="594.1" y="828.05" text-anchor="middle">1.0</text><text x="633.05" y="828.05" text-anchor="middle">1.5</text><text x="672" y="828.05" text-anchor="middle">2.0</text><text x="710.95" y="828.05" text-anchor="middle">2.5</text><text x="584.2" y="845.85" text-anchor="middle">Change in spherical equivalent error(D)</text></g>
<text x="504.6" y="626.2" font-size="17.7">Median:0.5D</text>
<text x="456" y="598.5" font-size="20.8" fill="#133847" style="color:#133847">In high myopia</text>
<text x="378.5" y="599.8" font-size="20.8" font-weight="bold">F</text>
<text transform="translate(389.3,707.4) rotate(-90)" text-anchor="middle" class="serif" font-size="16.4">Density</text>
</svg></body></html>
